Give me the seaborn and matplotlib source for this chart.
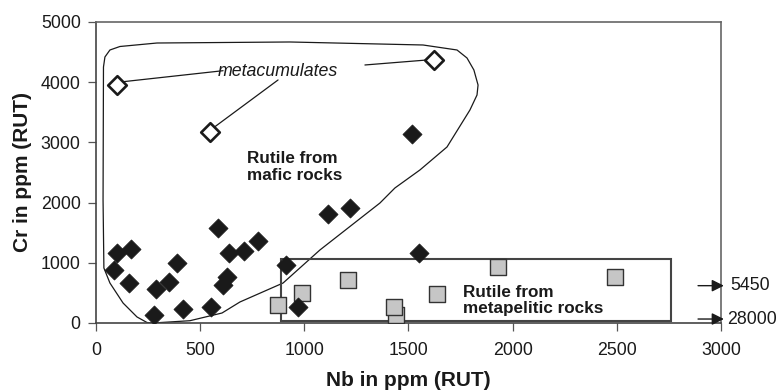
import matplotlib
matplotlib.use("Agg")
import matplotlib.pyplot as plt
from matplotlib.patches import Polygon
import seaborn as sns
import pandas as pd

# Rutile from mafic rocks (Nb, Cr in ppm)
mafic_nb = [99, 167, 88, 160, 288, 352, 387, 278, 416, 551, 587, 640, 627, 611,
            710, 779, 912, 971, 1115, 1219, 1550, 1517]
mafic_cr = [1158, 1234, 880, 659, 560, 686, 1002, 138, 238, 271, 1573, 1158, 769, 631,
            1201, 1367, 963, 271, 1811, 1905, 1168, 3140]

# Metacumulates (open diamonds)
meta_nb = [101, 547, 1623]
meta_cr = [3960, 3165, 4370]

# Rutile from metapelitic rocks
pel_nb = [875, 987, 1211, 1440, 1431, 1635, 1928, 2492]
pel_cr = [299, 493, 714, 133, 271, 482, 935, 759]

# Off-scale values indicated by arrows at the right edge
offscale_labels = ["5450", "28000"]
offscale_cr = [620, 66]

# Outline enclosing the mafic-rock field
env_nb = [36, 43, 67, 115, 293, 931, 1570, 1733, 1781, 1814, 1834, 1829, 1795,
          1685, 1555, 1435, 1363, 1075, 898, 691, 605, 451, 274, 245, 197, 130, 67, 38, 34]
env_cr = [4252, 4419, 4535, 4593, 4651, 4668, 4618, 4535, 4402, 4203, 3953, 3787, 3538,
          2924, 2542, 2243, 1993, 1213, 664, 349, 166, 38, 0, 8, 100, 332, 664, 914, 2043]

# Box enclosing the metapelitic field
pel_box = (890, 25, 2760, 1070)

sns.set_theme(style="white")
plt.rcParams["font.family"] = ["Liberation Sans", "DejaVu Sans"]

fig = plt.figure(figsize=(7.79, 3.9), dpi=100)
ax = fig.add_axes([0.1232, 0.1718, 0.8023, 0.7718])

ink = "#1a1a1a"
ax.add_patch(Polygon(list(zip(env_nb, env_cr)), closed=True, fill=False,
                     edgecolor=ink, lw=0.9, joinstyle="round", zorder=1))
x0, y0, x1, y1 = pel_box
ax.add_patch(Polygon([(x0, y0), (x1, y0), (x1, y1), (x0, y1)], closed=True, fill=False,
                     edgecolor="#444444", lw=1.5, zorder=1))

mafic = pd.DataFrame({"Nb": mafic_nb, "Cr": mafic_cr})
meta = pd.DataFrame({"Nb": meta_nb, "Cr": meta_cr})
pel = pd.DataFrame({"Nb": pel_nb, "Cr": pel_cr})

sns.scatterplot(data=pel, x="Nb", y="Cr", marker="s", s=125, color="#c6c6c6",
                edgecolor="#333333", linewidth=1.0, ax=ax, zorder=3)
sns.scatterplot(data=mafic, x="Nb", y="Cr", marker="D", s=95, color=ink,
                edgecolor=ink, linewidth=0.5, ax=ax, zorder=4)
sns.scatterplot(data=meta, x="Nb", y="Cr", marker="D", s=90, color="white",
                edgecolor=ink, linewidth=1.9, ax=ax, zorder=4)

# Leader lines from the label to the metacumulate points
for (xa, ya), (xb, yb) in [((610, 4191), (130, 4008)),
                           ((874, 4037), (571, 3261)),
                           ((1291, 4286), (1589, 4369))]:
    ax.plot([xa, xb], [ya, yb], color=ink, lw=0.9, zorder=2)

ax.text(875, 4170, "metacumulates", style="italic", fontsize=12.8, color=ink,
        ha="center", va="center", zorder=5)
ax.text(725, 2590, "Rutile from\nmafic rocks", fontweight="bold", fontsize=12.3,
        color=ink, ha="left", va="center", linespacing=1.15)
ax.text(1762, 374, "Rutile from\nmetapelitic rocks", fontweight="bold", fontsize=12.3,
        color=ink, ha="left", va="center", linespacing=1.05)

for lab, yv, tx in zip(offscale_labels, offscale_cr, [3043, 3029]):
    ax.annotate("", xy=(3014, yv), xytext=(2890, yv), xycoords="data",
                arrowprops=dict(arrowstyle="-|>", color=ink, lw=1.0, mutation_scale=18,
                                shrinkA=0, shrinkB=0),
                annotation_clip=False)
    ax.text(tx, yv, lab, fontsize=12.8, color=ink, ha="left", va="center", clip_on=False)

ax.set_xlim(0, 3000)
ax.set_ylim(0, 5000)
ax.set_xticks([0, 500, 1000, 1500, 2000, 2500, 3000])
ax.set_yticks([0, 1000, 2000, 3000, 4000, 5000])
ax.set_xlabel("Nb in ppm (RUT)", fontsize=15, fontweight="bold", color=ink, labelpad=8)
ax.set_ylabel("Cr in ppm (RUT)", fontsize=15, fontweight="bold", color=ink, labelpad=6)
ax.tick_params(axis="both", which="major", direction="out", length=6, width=0.9,
               color="#555555", labelsize=12.8, labelcolor=ink, bottom=True, left=True)
ax.tick_params(axis="x", pad=8)
ax.tick_params(axis="y", pad=5)
for sp in ax.spines.values():
    sp.set_color("#666666")
    sp.set_linewidth(1.2)
ax.spines["left"].set_color("#444444")
ax.spines["bottom"].set_color("#444444")

fig.savefig("out.png", dpi=100)
